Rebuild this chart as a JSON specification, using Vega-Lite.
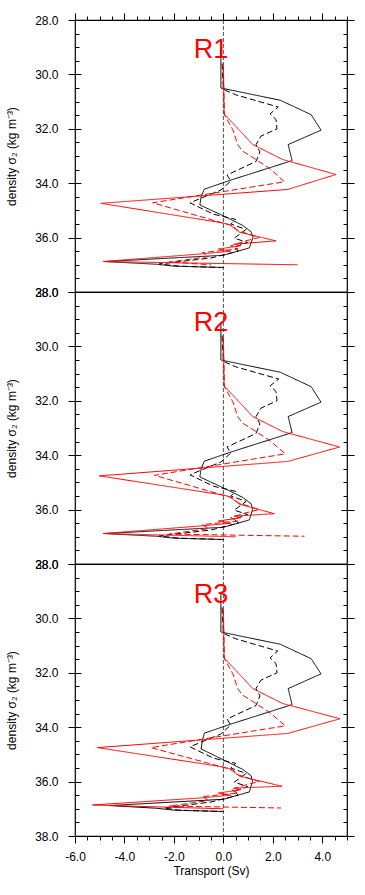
{
  "$schema": "https://vega.github.io/schema/vega-lite/v6.json",
  "padding": {"left": 5, "top": 11, "right": 5, "bottom": 5},
  "datasets": {
    "r1": [
      {"series": "A", "density": 29.0, "transport": -0.1},
      {"series": "A", "density": 30.5, "transport": -0.1},
      {"series": "A", "density": 30.95, "transport": 2.3},
      {"series": "A", "density": 31.48, "transport": 3.55},
      {"series": "A", "density": 32.05, "transport": 3.95},
      {"series": "A", "density": 32.58, "transport": 2.62},
      {"series": "A", "density": 33.17, "transport": 2.78},
      {"series": "A", "density": 33.9, "transport": 0.25},
      {"series": "A", "density": 34.22, "transport": -0.77},
      {"series": "A", "density": 34.5, "transport": -0.9},
      {"series": "A", "density": 34.8, "transport": -0.95},
      {"series": "A", "density": 35.2, "transport": 0.0},
      {"series": "A", "density": 35.55, "transport": 0.78},
      {"series": "A", "density": 35.78, "transport": 1.12},
      {"series": "A", "density": 36.0, "transport": 1.2},
      {"series": "A", "density": 36.38, "transport": 1.05},
      {"series": "A", "density": 36.65, "transport": 0.0},
      {"series": "A", "density": 36.88, "transport": -4.8},
      {"series": "A", "density": 36.98, "transport": -2.7},
      {"series": "A", "density": 37.05, "transport": -2.0},
      {"series": "A", "density": 37.1, "transport": 0.0},
      {"series": "B", "density": 29.6, "transport": -0.05},
      {"series": "B", "density": 30.55, "transport": 0.0},
      {"series": "B", "density": 30.75, "transport": 0.5},
      {"series": "B", "density": 31.2, "transport": 2.22},
      {"series": "B", "density": 31.45, "transport": 1.89},
      {"series": "B", "density": 31.66, "transport": 2.13},
      {"series": "B", "density": 32.0, "transport": 2.17},
      {"series": "B", "density": 32.27, "transport": 1.52},
      {"series": "B", "density": 32.58, "transport": 1.32},
      {"series": "B", "density": 32.85, "transport": 1.48},
      {"series": "B", "density": 33.2, "transport": 1.32},
      {"series": "B", "density": 33.7, "transport": 0.15},
      {"series": "B", "density": 33.92, "transport": 0.3},
      {"series": "B", "density": 34.25, "transport": -0.1},
      {"series": "B", "density": 34.72, "transport": -1.35},
      {"series": "B", "density": 35.14, "transport": -0.4},
      {"series": "B", "density": 35.33, "transport": 0.5},
      {"series": "B", "density": 35.5, "transport": 0.3},
      {"series": "B", "density": 35.7, "transport": 0.92},
      {"series": "B", "density": 36.02, "transport": 0.44},
      {"series": "B", "density": 36.18, "transport": 0.98},
      {"series": "B", "density": 36.35, "transport": 0.44},
      {"series": "B", "density": 36.5, "transport": 0.6},
      {"series": "B", "density": 36.75, "transport": -0.5},
      {"series": "B", "density": 36.97, "transport": -2.6},
      {"series": "B", "density": 37.05, "transport": -1.8},
      {"series": "B", "density": 37.1, "transport": 0.0},
      {"series": "C", "density": 29.7, "transport": 0.0},
      {"series": "C", "density": 31.45, "transport": 0.03},
      {"series": "C", "density": 32.58, "transport": 1.19},
      {"series": "C", "density": 33.13, "transport": 2.4},
      {"series": "C", "density": 33.68, "transport": 4.56},
      {"series": "C", "density": 34.23, "transport": 2.6},
      {"series": "C", "density": 34.74, "transport": -4.95},
      {"series": "C", "density": 35.45, "transport": -0.1},
      {"series": "C", "density": 35.52, "transport": 0.24},
      {"series": "C", "density": 35.8, "transport": 0.65},
      {"series": "C", "density": 36.12, "transport": 2.13},
      {"series": "C", "density": 36.24, "transport": 0.44},
      {"series": "C", "density": 36.3, "transport": 0.7},
      {"series": "C", "density": 36.42, "transport": -0.2},
      {"series": "C", "density": 36.5, "transport": 0.3},
      {"series": "C", "density": 36.6, "transport": -0.9},
      {"series": "C", "density": 36.88, "transport": -4.85},
      {"series": "C", "density": 37.0, "transport": 3.0},
      {"series": "D", "density": 29.7, "transport": 0.0},
      {"series": "D", "density": 31.48, "transport": 0.04},
      {"series": "D", "density": 32.03, "transport": 0.38},
      {"series": "D", "density": 32.58, "transport": 0.58},
      {"series": "D", "density": 32.82, "transport": 0.78},
      {"series": "D", "density": 33.13, "transport": 1.32},
      {"series": "D", "density": 33.5, "transport": 1.93},
      {"series": "D", "density": 33.95, "transport": 2.47},
      {"series": "D", "density": 34.72, "transport": -2.86},
      {"series": "D", "density": 35.57, "transport": 0.38},
      {"series": "D", "density": 35.75, "transport": 0.6},
      {"series": "D", "density": 36.0, "transport": 1.45},
      {"series": "D", "density": 36.12, "transport": 0.9},
      {"series": "D", "density": 36.3, "transport": 0.3},
      {"series": "D", "density": 36.42, "transport": 0.6},
      {"series": "D", "density": 36.55, "transport": -0.84},
      {"series": "D", "density": 36.7, "transport": -0.6},
      {"series": "D", "density": 36.9, "transport": -2.2},
      {"series": "D", "density": 37.0, "transport": -0.5}
    ],
    "r2": [
      {"series": "A", "density": 29.1, "transport": -0.1},
      {"series": "A", "density": 30.5, "transport": -0.1},
      {"series": "A", "density": 30.95, "transport": 2.3},
      {"series": "A", "density": 31.48, "transport": 3.55},
      {"series": "A", "density": 32.05, "transport": 3.95},
      {"series": "A", "density": 32.58, "transport": 2.62},
      {"series": "A", "density": 33.17, "transport": 2.78},
      {"series": "A", "density": 33.9, "transport": 0.25},
      {"series": "A", "density": 34.22, "transport": -0.77},
      {"series": "A", "density": 34.5, "transport": -0.9},
      {"series": "A", "density": 34.8, "transport": -0.95},
      {"series": "A", "density": 35.2, "transport": 0.0},
      {"series": "A", "density": 35.55, "transport": 0.78},
      {"series": "A", "density": 35.78, "transport": 1.12},
      {"series": "A", "density": 36.0, "transport": 1.18},
      {"series": "A", "density": 36.38, "transport": 1.05},
      {"series": "A", "density": 36.65, "transport": 0.0},
      {"series": "A", "density": 36.88, "transport": -4.8},
      {"series": "A", "density": 36.98, "transport": -2.7},
      {"series": "A", "density": 37.05, "transport": -2.0},
      {"series": "A", "density": 37.1, "transport": 0.0},
      {"series": "B", "density": 29.6, "transport": -0.05},
      {"series": "B", "density": 30.55, "transport": 0.0},
      {"series": "B", "density": 30.75, "transport": 0.5},
      {"series": "B", "density": 31.2, "transport": 2.24},
      {"series": "B", "density": 31.45, "transport": 1.89},
      {"series": "B", "density": 31.66, "transport": 2.13},
      {"series": "B", "density": 32.0, "transport": 2.17},
      {"series": "B", "density": 32.27, "transport": 1.52},
      {"series": "B", "density": 32.58, "transport": 1.32},
      {"series": "B", "density": 32.85, "transport": 1.48},
      {"series": "B", "density": 33.2, "transport": 1.32},
      {"series": "B", "density": 33.7, "transport": 0.15},
      {"series": "B", "density": 33.92, "transport": 0.3},
      {"series": "B", "density": 34.25, "transport": -0.1},
      {"series": "B", "density": 34.72, "transport": -1.35},
      {"series": "B", "density": 35.14, "transport": -0.4},
      {"series": "B", "density": 35.33, "transport": 0.5},
      {"series": "B", "density": 35.5, "transport": 0.3},
      {"series": "B", "density": 35.7, "transport": 0.92},
      {"series": "B", "density": 36.02, "transport": 0.44},
      {"series": "B", "density": 36.18, "transport": 0.98},
      {"series": "B", "density": 36.35, "transport": 0.44},
      {"series": "B", "density": 36.5, "transport": 0.6},
      {"series": "B", "density": 36.75, "transport": -0.5},
      {"series": "B", "density": 36.97, "transport": -2.6},
      {"series": "B", "density": 37.05, "transport": -1.8},
      {"series": "B", "density": 37.1, "transport": 0.0},
      {"series": "C", "density": 29.7, "transport": 0.0},
      {"series": "C", "density": 31.45, "transport": 0.03},
      {"series": "C", "density": 32.58, "transport": 1.19},
      {"series": "C", "density": 33.13, "transport": 2.4},
      {"series": "C", "density": 33.7, "transport": 4.7},
      {"series": "C", "density": 34.23, "transport": 2.6},
      {"series": "C", "density": 34.76, "transport": -5.02},
      {"series": "C", "density": 35.45, "transport": -0.1},
      {"series": "C", "density": 35.52, "transport": 0.24},
      {"series": "C", "density": 35.8, "transport": 0.65},
      {"series": "C", "density": 36.15, "transport": 2.06},
      {"series": "C", "density": 36.24, "transport": 0.44},
      {"series": "C", "density": 36.3, "transport": 0.7},
      {"series": "C", "density": 36.42, "transport": -0.2},
      {"series": "C", "density": 36.5, "transport": 0.3},
      {"series": "C", "density": 36.6, "transport": -0.9},
      {"series": "C", "density": 36.88, "transport": -4.85},
      {"series": "C", "density": 37.0, "transport": 0.5},
      {"series": "D", "density": 29.7, "transport": 0.0},
      {"series": "D", "density": 31.48, "transport": 0.04},
      {"series": "D", "density": 32.03, "transport": 0.38},
      {"series": "D", "density": 32.58, "transport": 0.58},
      {"series": "D", "density": 32.82, "transport": 0.78},
      {"series": "D", "density": 33.13, "transport": 1.32},
      {"series": "D", "density": 33.5, "transport": 1.93},
      {"series": "D", "density": 33.95, "transport": 2.5},
      {"series": "D", "density": 34.74, "transport": -2.79},
      {"series": "D", "density": 35.57, "transport": 0.38},
      {"series": "D", "density": 35.75, "transport": 0.6},
      {"series": "D", "density": 36.0, "transport": 1.45},
      {"series": "D", "density": 36.12, "transport": 0.9},
      {"series": "D", "density": 36.3, "transport": 0.3},
      {"series": "D", "density": 36.42, "transport": 0.6},
      {"series": "D", "density": 36.55, "transport": -0.84},
      {"series": "D", "density": 36.7, "transport": -0.6},
      {"series": "D", "density": 36.9, "transport": -2.2},
      {"series": "D", "density": 36.98, "transport": 3.28}
    ],
    "r3": [
      {"series": "A", "density": 29.1, "transport": -0.1},
      {"series": "A", "density": 30.5, "transport": -0.1},
      {"series": "A", "density": 30.95, "transport": 2.3},
      {"series": "A", "density": 31.48, "transport": 3.55},
      {"series": "A", "density": 32.04, "transport": 3.95},
      {"series": "A", "density": 32.58, "transport": 2.62},
      {"series": "A", "density": 33.17, "transport": 2.78},
      {"series": "A", "density": 33.9, "transport": 0.25},
      {"series": "A", "density": 34.22, "transport": -0.77},
      {"series": "A", "density": 34.5, "transport": -0.85},
      {"series": "A", "density": 34.8, "transport": -0.9},
      {"series": "A", "density": 35.2, "transport": 0.0},
      {"series": "A", "density": 35.55, "transport": 0.78},
      {"series": "A", "density": 35.78, "transport": 1.12},
      {"series": "A", "density": 36.0, "transport": 1.18},
      {"series": "A", "density": 36.38, "transport": 1.05},
      {"series": "A", "density": 36.65, "transport": 0.0},
      {"series": "A", "density": 36.88, "transport": -4.6},
      {"series": "A", "density": 36.98, "transport": -2.7},
      {"series": "A", "density": 37.05, "transport": -2.0},
      {"series": "A", "density": 37.1, "transport": 0.0},
      {"series": "B", "density": 29.6, "transport": -0.05},
      {"series": "B", "density": 30.55, "transport": 0.0},
      {"series": "B", "density": 30.75, "transport": 0.5},
      {"series": "B", "density": 31.2, "transport": 2.2},
      {"series": "B", "density": 31.45, "transport": 1.89},
      {"series": "B", "density": 31.66, "transport": 2.13},
      {"series": "B", "density": 32.0, "transport": 2.17},
      {"series": "B", "density": 32.27, "transport": 1.52},
      {"series": "B", "density": 32.58, "transport": 1.32},
      {"series": "B", "density": 32.85, "transport": 1.48},
      {"series": "B", "density": 33.2, "transport": 1.32},
      {"series": "B", "density": 33.7, "transport": 0.15},
      {"series": "B", "density": 33.92, "transport": 0.3},
      {"series": "B", "density": 34.25, "transport": -0.1},
      {"series": "B", "density": 34.72, "transport": -1.35},
      {"series": "B", "density": 35.14, "transport": -0.4},
      {"series": "B", "density": 35.33, "transport": 0.5},
      {"series": "B", "density": 35.5, "transport": 0.3},
      {"series": "B", "density": 35.7, "transport": 0.92},
      {"series": "B", "density": 36.02, "transport": 0.44},
      {"series": "B", "density": 36.18, "transport": 0.98},
      {"series": "B", "density": 36.35, "transport": 0.44},
      {"series": "B", "density": 36.5, "transport": 0.6},
      {"series": "B", "density": 36.75, "transport": -0.5},
      {"series": "B", "density": 36.97, "transport": -2.4},
      {"series": "B", "density": 37.05, "transport": -1.8},
      {"series": "B", "density": 37.1, "transport": 0.0},
      {"series": "C", "density": 29.7, "transport": 0.0},
      {"series": "C", "density": 31.45, "transport": 0.03},
      {"series": "C", "density": 32.58, "transport": 1.19},
      {"series": "C", "density": 33.13, "transport": 2.4},
      {"series": "C", "density": 33.69, "transport": 4.72},
      {"series": "C", "density": 34.23, "transport": 2.6},
      {"series": "C", "density": 34.75, "transport": -5.09},
      {"series": "C", "density": 35.45, "transport": -0.1},
      {"series": "C", "density": 35.52, "transport": 0.24},
      {"series": "C", "density": 35.8, "transport": 0.65},
      {"series": "C", "density": 36.17, "transport": 2.37},
      {"series": "C", "density": 36.24, "transport": 0.44},
      {"series": "C", "density": 36.3, "transport": 0.7},
      {"series": "C", "density": 36.42, "transport": -0.2},
      {"series": "C", "density": 36.5, "transport": 0.3},
      {"series": "C", "density": 36.6, "transport": -0.9},
      {"series": "C", "density": 36.86, "transport": -5.29},
      {"series": "C", "density": 37.0, "transport": 0.0},
      {"series": "D", "density": 29.7, "transport": 0.0},
      {"series": "D", "density": 31.48, "transport": 0.04},
      {"series": "D", "density": 32.03, "transport": 0.38},
      {"series": "D", "density": 32.58, "transport": 0.58},
      {"series": "D", "density": 32.82, "transport": 0.78},
      {"series": "D", "density": 33.13, "transport": 1.32},
      {"series": "D", "density": 33.5, "transport": 1.93},
      {"series": "D", "density": 33.95, "transport": 2.5},
      {"series": "D", "density": 34.75, "transport": -2.93},
      {"series": "D", "density": 35.57, "transport": 0.38},
      {"series": "D", "density": 35.75, "transport": 0.6},
      {"series": "D", "density": 36.0, "transport": 1.45},
      {"series": "D", "density": 36.12, "transport": 0.9},
      {"series": "D", "density": 36.3, "transport": 0.3},
      {"series": "D", "density": 36.42, "transport": 0.6},
      {"series": "D", "density": 36.55, "transport": -0.84},
      {"series": "D", "density": 36.7, "transport": -0.6},
      {"series": "D", "density": 36.9, "transport": -2.2},
      {"series": "D", "density": 36.97, "transport": 2.33}
    ]
  },
  "vconcat": [
    {
      "width": 272, "height": 272,
      "data": {"name": "r1"},
      "title": {"text": "R1", "color": "#ff0000", "fontSize": 27, "font": "Liberation Sans", "fontWeight": "normal", "anchor": "middle", "frame": "group", "offset": -38, "dy": 34, "baseline": "alphabetic"},
      "layer": [
        {"data": {"values": [{}]},
         "mark": {"type": "rule", "strokeDash": [4, 2], "color": "#222222", "strokeWidth": 0.8},
         "encoding": {"x": {"datum": 0, "type": "quantitative", "scale": {"domain": [-6, 5], "nice": false, "zero": false}, "axis": null}}},
        {"mark": {"type": "line", "strokeWidth": 1, "clip": true},
         "encoding": {
           "x": {"field": "transport", "type": "quantitative", "scale": {"domain": [-6, 5], "nice": false, "zero": false}, "axis": null},
           "y": {"field": "density", "type": "quantitative", "scale": {"domain": [28, 38], "reverse": true, "nice": false, "zero": false},
                 "axis": {"orient": "left", "values": [28, 30, 32, 34, 36, 38], "format": ".1f", "tickSize": 7, "labelPadding": 10, "title": "density σ₂ (kg m⁻³)", "titlePadding": 16}},
           "color": {"field": "series", "type": "nominal", "scale": {"domain": ["A", "B", "C", "D"], "range": ["#000000", "#000000", "#ff0000", "#ff0000"]}, "legend": null},
           "strokeDash": {"field": "series", "type": "nominal", "scale": {"domain": ["A", "B", "C", "D"], "range": [[1, 0], [6, 3], [1, 0], [6, 3]]}, "legend": null},
           "order": {"field": "density", "type": "quantitative"}
         }},
        {"mark": {"type": "point", "opacity": 0},
         "encoding": {
           "x": {"field": "transport", "type": "quantitative", "scale": {"domain": [-6, 5], "nice": false, "zero": false},
                 "axis": {"orient": "top", "values": [-6, -4, -2, 0, 2, 4], "tickSize": 7, "labels": false, "title": null}},
           "y": {"field": "density", "type": "quantitative", "scale": {"domain": [28, 38], "reverse": true, "nice": false, "zero": false},
                 "axis": {"orient": "left", "values": [28, 28.5, 29, 29.5, 30, 30.5, 31, 31.5, 32, 32.5, 33, 33.5, 34, 34.5, 35, 35.5, 36, 36.5, 37, 37.5, 38], "tickSize": -4, "labels": false, "title": null}}
         }},
        {"mark": {"type": "point", "opacity": 0},
         "encoding": {
           "x": {"field": "transport", "type": "quantitative", "scale": {"domain": [-6, 5], "nice": false, "zero": false},
                 "axis": {"orient": "top", "values": [-6, -5.5, -5, -4.5, -4, -3.5, -3, -2.5, -2, -1.5, -1, -0.5, 0, 0.5, 1, 1.5, 2, 2.5, 3, 3.5, 4, 4.5, 5], "tickSize": 4, "labels": false, "title": null}},
           "y": {"field": "density", "type": "quantitative", "scale": {"domain": [28, 38], "reverse": true, "nice": false, "zero": false},
                 "axis": {"orient": "right", "values": [28, 30, 32, 34, 36, 38], "tickSize": 7, "labels": false, "title": null}}
         }},
        {"mark": {"type": "point", "opacity": 0},
         "encoding": {
           "y": {"field": "density", "type": "quantitative", "scale": {"domain": [28, 38], "reverse": true, "nice": false, "zero": false},
                 "axis": {"orient": "right", "values": [28, 28.5, 29, 29.5, 30, 30.5, 31, 31.5, 32, 32.5, 33, 33.5, 34, 34.5, 35, 35.5, 36, 36.5, 37, 37.5, 38], "tickSize": -4, "labels": false, "title": null}}
         }},
        {"mark": {"type": "point", "opacity": 0},
         "encoding": {
           "y": {"field": "density", "type": "quantitative", "scale": {"domain": [28, 38], "reverse": true, "nice": false, "zero": false},
                 "axis": {"orient": "left", "values": [28, 30, 32, 34, 36, 38], "tickSize": -6, "labels": false, "title": null}}
         }},
        {"mark": {"type": "point", "opacity": 0},
         "encoding": {
           "y": {"field": "density", "type": "quantitative", "scale": {"domain": [28, 38], "reverse": true, "nice": false, "zero": false},
                 "axis": {"orient": "right", "values": [28, 30, 32, 34, 36, 38], "tickSize": -6, "labels": false, "title": null}}
         }}
      ],
      "resolve": {"axis": {"x": "independent", "y": "independent"}}
    },
    {
      "width": 272, "height": 272,
      "data": {"name": "r2"},
      "title": {"text": "R2", "color": "#ff0000", "fontSize": 27, "font": "Liberation Sans", "fontWeight": "normal", "anchor": "middle", "frame": "group", "offset": -38, "dy": 34, "baseline": "alphabetic"},
      "layer": [
        {"data": {"values": [{}]},
         "mark": {"type": "rule", "strokeDash": [4, 2], "color": "#222222", "strokeWidth": 0.8},
         "encoding": {"x": {"datum": 0, "type": "quantitative", "scale": {"domain": [-6, 5], "nice": false, "zero": false}, "axis": null}}},
        {"mark": {"type": "line", "strokeWidth": 1, "clip": true},
         "encoding": {
           "x": {"field": "transport", "type": "quantitative", "scale": {"domain": [-6, 5], "nice": false, "zero": false}, "axis": null},
           "y": {"field": "density", "type": "quantitative", "scale": {"domain": [28, 38], "reverse": true, "nice": false, "zero": false},
                 "axis": {"orient": "left", "values": [28, 30, 32, 34, 36, 38], "format": ".1f", "tickSize": 7, "labelPadding": 10, "title": "density σ₂ (kg m⁻³)", "titlePadding": 16}},
           "color": {"field": "series", "type": "nominal", "scale": {"domain": ["A", "B", "C", "D"], "range": ["#000000", "#000000", "#ff0000", "#ff0000"]}, "legend": null},
           "strokeDash": {"field": "series", "type": "nominal", "scale": {"domain": ["A", "B", "C", "D"], "range": [[1, 0], [6, 3], [1, 0], [6, 3]]}, "legend": null},
           "order": {"field": "density", "type": "quantitative"}
         }},
        {"mark": {"type": "point", "opacity": 0},
         "encoding": {
           "y": {"field": "density", "type": "quantitative", "scale": {"domain": [28, 38], "reverse": true, "nice": false, "zero": false},
                 "axis": {"orient": "left", "values": [28, 28.5, 29, 29.5, 30, 30.5, 31, 31.5, 32, 32.5, 33, 33.5, 34, 34.5, 35, 35.5, 36, 36.5, 37, 37.5, 38], "tickSize": -4, "labels": false, "title": null}}
         }},
        {"mark": {"type": "point", "opacity": 0},
         "encoding": {
           "y": {"field": "density", "type": "quantitative", "scale": {"domain": [28, 38], "reverse": true, "nice": false, "zero": false},
                 "axis": {"orient": "right", "values": [28, 30, 32, 34, 36, 38], "tickSize": 7, "labels": false, "title": null}}
         }},
        {"mark": {"type": "point", "opacity": 0},
         "encoding": {
           "y": {"field": "density", "type": "quantitative", "scale": {"domain": [28, 38], "reverse": true, "nice": false, "zero": false},
                 "axis": {"orient": "right", "values": [28, 28.5, 29, 29.5, 30, 30.5, 31, 31.5, 32, 32.5, 33, 33.5, 34, 34.5, 35, 35.5, 36, 36.5, 37, 37.5, 38], "tickSize": -4, "labels": false, "title": null}}
         }},
        {"mark": {"type": "point", "opacity": 0},
         "encoding": {
           "y": {"field": "density", "type": "quantitative", "scale": {"domain": [28, 38], "reverse": true, "nice": false, "zero": false},
                 "axis": {"orient": "left", "values": [28, 30, 32, 34, 36, 38], "tickSize": -6, "labels": false, "title": null}}
         }},
        {"mark": {"type": "point", "opacity": 0},
         "encoding": {
           "y": {"field": "density", "type": "quantitative", "scale": {"domain": [28, 38], "reverse": true, "nice": false, "zero": false},
                 "axis": {"orient": "right", "values": [28, 30, 32, 34, 36, 38], "tickSize": -6, "labels": false, "title": null}}
         }}
      ],
      "resolve": {"axis": {"x": "independent", "y": "independent"}}
    },
    {
      "width": 272, "height": 272,
      "data": {"name": "r3"},
      "title": {"text": "R3", "color": "#ff0000", "fontSize": 27, "font": "Liberation Sans", "fontWeight": "normal", "anchor": "middle", "frame": "group", "offset": -38, "dy": 34, "baseline": "alphabetic"},
      "layer": [
        {"data": {"values": [{}]},
         "mark": {"type": "rule", "strokeDash": [4, 2], "color": "#222222", "strokeWidth": 0.8},
         "encoding": {"x": {"datum": 0, "type": "quantitative", "scale": {"domain": [-6, 5], "nice": false, "zero": false}, "axis": null}}},
        {"mark": {"type": "line", "strokeWidth": 1, "clip": true},
         "encoding": {
           "x": {"field": "transport", "type": "quantitative", "scale": {"domain": [-6, 5], "nice": false, "zero": false},
                 "axis": {"orient": "bottom", "values": [-6, -4, -2, 0, 2, 4], "format": ".1f", "labelExpr": "replace(datum.label, '\u2212', '-')", "tickSize": 7, "labelPadding": 8, "labelFlush": false, "title": "Transport (Sv)", "titlePadding": 3}},
           "y": {"field": "density", "type": "quantitative", "scale": {"domain": [28, 38], "reverse": true, "nice": false, "zero": false},
                 "axis": {"orient": "left", "values": [28, 30, 32, 34, 36, 38], "format": ".1f", "tickSize": 7, "labelPadding": 10, "title": "density σ₂ (kg m⁻³)", "titlePadding": 16}},
           "color": {"field": "series", "type": "nominal", "scale": {"domain": ["A", "B", "C", "D"], "range": ["#000000", "#000000", "#ff0000", "#ff0000"]}, "legend": null},
           "strokeDash": {"field": "series", "type": "nominal", "scale": {"domain": ["A", "B", "C", "D"], "range": [[1, 0], [6, 3], [1, 0], [6, 3]]}, "legend": null},
           "order": {"field": "density", "type": "quantitative"}
         }},
        {"mark": {"type": "point", "opacity": 0},
         "encoding": {
           "x": {"field": "transport", "type": "quantitative", "scale": {"domain": [-6, 5], "nice": false, "zero": false},
                 "axis": {"orient": "bottom", "values": [-6, -5.5, -5, -4.5, -4, -3.5, -3, -2.5, -2, -1.5, -1, -0.5, 0, 0.5, 1, 1.5, 2, 2.5, 3, 3.5, 4, 4.5, 5], "tickSize": 4, "labels": false, "title": null}},
           "y": {"field": "density", "type": "quantitative", "scale": {"domain": [28, 38], "reverse": true, "nice": false, "zero": false},
                 "axis": {"orient": "left", "values": [28, 28.5, 29, 29.5, 30, 30.5, 31, 31.5, 32, 32.5, 33, 33.5, 34, 34.5, 35, 35.5, 36, 36.5, 37, 37.5, 38], "tickSize": -4, "labels": false, "title": null}}
         }},
        {"mark": {"type": "point", "opacity": 0},
         "encoding": {
           "y": {"field": "density", "type": "quantitative", "scale": {"domain": [28, 38], "reverse": true, "nice": false, "zero": false},
                 "axis": {"orient": "right", "values": [28, 30, 32, 34, 36, 38], "tickSize": 7, "labels": false, "title": null}}
         }},
        {"mark": {"type": "point", "opacity": 0},
         "encoding": {
           "y": {"field": "density", "type": "quantitative", "scale": {"domain": [28, 38], "reverse": true, "nice": false, "zero": false},
                 "axis": {"orient": "right", "values": [28, 28.5, 29, 29.5, 30, 30.5, 31, 31.5, 32, 32.5, 33, 33.5, 34, 34.5, 35, 35.5, 36, 36.5, 37, 37.5, 38], "tickSize": -4, "labels": false, "title": null}}
         }},
        {"mark": {"type": "point", "opacity": 0},
         "encoding": {
           "y": {"field": "density", "type": "quantitative", "scale": {"domain": [28, 38], "reverse": true, "nice": false, "zero": false},
                 "axis": {"orient": "left", "values": [28, 30, 32, 34, 36, 38], "tickSize": -6, "labels": false, "title": null}}
         }},
        {"mark": {"type": "point", "opacity": 0},
         "encoding": {
           "y": {"field": "density", "type": "quantitative", "scale": {"domain": [28, 38], "reverse": true, "nice": false, "zero": false},
                 "axis": {"orient": "right", "values": [28, 30, 32, 34, 36, 38], "tickSize": -6, "labels": false, "title": null}}
         }}
      ],
      "resolve": {"axis": {"x": "independent", "y": "independent"}}
    }
  ],
  "spacing": 0,
  "bounds": "flush",
  "config": {
    "view": {"stroke": "#000000", "strokeWidth": 1.2},
    "axis": {"grid": false, "domain": false, "labelFont": "Liberation Sans", "titleFont": "Liberation Sans", "labelFontSize": 12, "titleFontSize": 12, "labelColor": "#000000", "titleColor": "#000000", "tickColor": "#000000", "tickWidth": 1, "titleFontWeight": "normal"}
  }
}
